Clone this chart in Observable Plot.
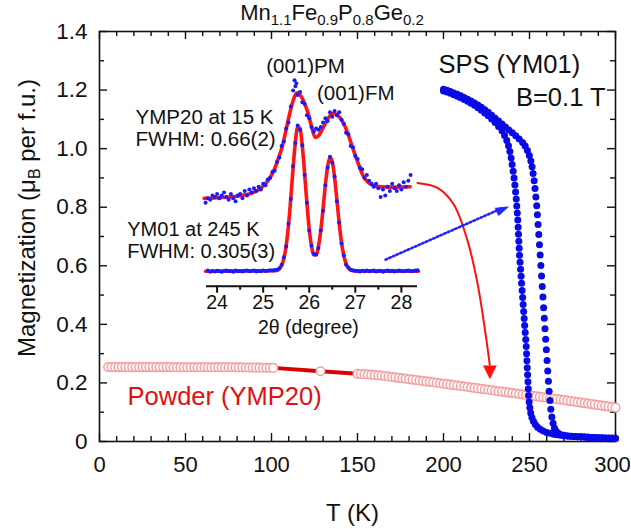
<!DOCTYPE html>
<html><head><meta charset="utf-8">
<script src="https://cdn.jsdelivr.net/npm/d3@7"></script>
<script src="https://cdn.jsdelivr.net/npm/@observablehq/plot@0.6"></script>
<style>
body{margin:0;background:#fff;}
#wrap{position:relative;width:631px;height:529px;overflow:hidden;font-family:"Liberation Sans",Arial,sans-serif;color:#111;background:#fff;}
#wrap svg{position:absolute;}
.title{position:absolute;left:332px;top:2px;transform:translateX(-50%);font-size:22px;line-height:22px;white-space:nowrap;}
.sub{font-size:15px;position:relative;top:5px;}
.ylab{position:absolute;left:28px;top:218px;transform:translate(-50%,-50%) rotate(-90deg);font-size:24px;line-height:24px;white-space:nowrap;}
.ysub{font-size:16px;position:relative;top:5px;}
</style></head><body>
<div id="wrap"></div>
<script>
// ---------- main chart data ----------
const xMajor = [0,50,100,150,200,250,300];
const xMinor = [10,20,30,40,60,70,80,90,110,120,130,140,160,170,180,190,210,220,230,240,260,270,280,290];
const yMajor = [0,0.2,0.4,0.6,0.8,1.0,1.2,1.4];
const yMinor = [0.1,0.3,0.5,0.7,0.9,1.1,1.3];

// SPS (YM01), lower-T transition branch
const coolT = [200,202,204,206,208,210,212,214,216,218,220,222,224,226,228,230,232,234,
  235.5,236.8,237.8,238.6,239.3,239.9,240.5,241,241.5,241.9,
  242.3,242.6,242.9,243.2,243.4,243.6,243.8,244,244.2,244.5,
  244.8,245.1,245.4,245.7,246,246.3,246.6,246.9,247.2,247.5,
  247.8,248.1,248.3,248.5,248.7,248.9,249.1,249.3,249.5,249.8,
  250.2,250.7,251.4,252.3,253.4,254.7,256.2,258,
  260,262,264,266,268,270,272,274,276,278,280,282,284,286,288,290,292,294,296,298,300];
const coolM = [1.197,1.193,1.189,1.184,1.179,1.174,1.168,1.162,1.155,1.148,1.140,1.131,1.122,1.112,1.101,1.089,1.076,1.061,
  1.045,1.028,1.010,0.990,0.968,0.946,0.923,0.900,0.876,0.852,
  0.828,0.804,0.780,0.756,0.732,0.708,0.684,0.660,0.636,0.612,
  0.588,0.564,0.540,0.516,0.492,0.468,0.444,0.420,0.396,0.372,
  0.348,0.324,0.300,0.276,0.252,0.228,0.204,0.180,0.157,0.135,
  0.115,0.097,0.082,0.069,0.058,0.049,0.042,0.036,
  0.031,0.028,0.025,0.023,0.021,0.020,0.019,0.018,0.017,0.016,0.016,0.015,0.014,0.014,0.013,0.013,0.012,0.012,0.011,0.011,0.010];

// SPS (YM01), higher-T transition branch
const warmT = [200,202,204,206,208,210,212,214,216,218,220,222,224,226,228,230,232,234,236,238,240,242,244,246,
  247.5,248.8,249.9,250.8,251.5,252.1,252.7,253.2,253.7,254.2,
  254.6,255,255.4,255.8,256.2,256.6,257,257.4,257.8,258.2,
  258.6,259,259.4,259.8,260.2,260.6,261,261.4,261.9,262.4,
  263,263.7,264.5,265.5,266.7,268,
  270,272,274,276,278,280,282,284,286,288,290,292,294,296,298,300];
const warmM = [1.203,1.199,1.195,1.190,1.186,1.181,1.175,1.169,1.163,1.156,1.149,1.141,1.133,1.124,1.114,1.104,1.094,1.084,1.074,1.064,1.054,1.044,1.033,1.021,
  1.009,0.994,0.977,0.958,0.938,0.915,0.890,0.864,0.835,0.805,
  0.774,0.741,0.707,0.672,0.637,0.601,0.565,0.529,0.493,0.457,
  0.421,0.385,0.349,0.313,0.277,0.241,0.206,0.172,0.140,0.110,
  0.084,0.062,0.046,0.035,0.028,0.024,
  0.021,0.019,0.018,0.017,0.016,0.016,0.015,0.015,0.014,0.014,0.013,0.013,0.012,0.012,0.012,0.011];

// Powder (YMP20)
const powderT = [5,7,9,11,13,15,17,19,21,23,25,27,29,31,33,35,37,39,41,
  43,45,47,49,51,53,55,57,59,61,63,65,67,69,71,73,75,77,79,
  81,83,85,87,89,91,93,95,97,99,101,
  128.5,
  150,152,154,156,158,160,162,164,166,168,170,172,174,176,178,180,182,184,186,188,
  190,192,194,196,198,200,202,204,206,208,210,212,214,216,218,220,222,224,226,228,
  230,232,234,236,238,240,242,244,246,248,250,252,254,256,258,260,262,264,266,268,
  270,272,274,276,278,280,282,284,286,288,290,292,294,296,298,300];
const powderM = [0.254,0.254,0.254,0.254,0.254,0.254,0.254,0.254,0.254,0.254,0.254,0.254,0.254,0.254,0.254,0.254,0.254,0.254,0.254,
  0.2535,0.2535,0.2535,0.2535,0.2535,0.2535,0.2535,0.2535,0.2535,0.2535,0.2535,0.2535,0.2535,0.2535,0.2535,0.2535,0.2535,0.2535,0.2535,
  0.253,0.253,0.2528,0.2527,0.2525,0.2524,0.2522,0.252,0.2518,0.2516,0.2514,
  0.240,
  0.231,0.2305,0.2298,0.229,0.2282,0.2273,0.2262,0.225,0.2236,0.2221,
  0.2205,0.219,0.2174,0.2158,0.2143,0.2128,0.2113,0.2098,0.2083,0.2068,
  0.2053,0.2038,0.2022,0.2006,0.199,0.1974,0.1958,0.1942,0.1926,0.191,
  0.1894,0.1878,0.1862,0.1846,0.183,0.1814,0.1798,0.1782,0.1766,0.175,
  0.1734,0.1718,0.1702,0.1686,0.167,0.1654,0.1638,0.1622,0.1606,0.159,
  0.1574,0.1558,0.1542,0.1526,0.151,0.1494,0.1478,0.1462,0.1446,0.143,
  0.1413,0.1396,0.1379,0.1362,0.1345,0.1328,0.1311,0.1294,0.1277,0.126,
  0.1243,0.1226,0.1209,0.1192,0.1175,0.1158];

// annotation arrows (data units of the main chart)
const redArrowT = [184.9,196.5,205.8,214.0,219.8,224.4,226.9];
const redArrowM = [0.883,0.866,0.811,0.685,0.539,0.369,0.262];
const blueArrowT = [166.3,231.4];
const blueArrowM = [0.621,0.7896];

// ---------- inset data (XRD) ----------
const insetTicks = [24,25,26,27,28];
const insetMinor = [24.5,25.5,26.5,27.5];

const ym01X = [23.80,23.85,23.90,23.95,24.00,24.05,24.10,24.15,24.20,24.25,
  24.30,24.35,24.40,24.45,24.50,24.55,24.60,24.65,24.70,24.75,
  24.80,24.85,24.90,24.95,25.00,25.05,25.10,25.15,25.20,25.25,
  25.30,25.35,25.40,25.45,25.50,25.55,25.60,25.65,25.70,25.75,
  25.80,25.85,25.90,25.95,26.00,26.05,26.10,26.15,26.20,26.25,
  26.30,26.35,26.40,26.45,26.50,26.55,26.60,26.65,26.70,26.75,
  26.80,26.85,26.90,26.95,27.00,27.05,27.10,27.15,27.20,27.25,
  27.30,27.35,27.40,27.45,27.50,27.55,27.60,27.65,27.70,27.75,
  27.80,27.85,27.90,27.95,28.00,28.05,28.10,28.15,28.20,28.25,
  28.30,28.35];
const ym01Y = [0.004,-0.003,0.002,-0.002,0.003,0.000,-0.004,0.002,0.005,-0.001,
  0.001,-0.003,0.004,0.000,0.002,-0.002,0.003,0.005,-0.001,0.001,
  0.004,-0.002,0.002,0.000,0.005,0.001,0.003,0.006,0.004,0.008,
  0.010,0.020,0.045,0.095,0.170,0.325,0.495,0.720,0.880,1.000,
  0.970,0.865,0.660,0.470,0.280,0.175,0.120,0.115,0.160,0.280,
  0.415,0.590,0.710,0.785,0.745,0.650,0.480,0.335,0.190,0.110,
  0.045,0.025,0.010,0.006,0.003,0.001,-0.002,0.003,0.000,0.004,
  -0.001,0.002,0.005,-0.002,0.001,0.003,-0.003,0.002,0.004,0.000,
  0.003,-0.002,0.001,0.004,0.002,-0.001,0.003,0.005,0.000,0.002,
  0.004,0.006];
const ym01FitX = [23.75,25.25,25.3,25.35,25.4,25.45,25.5,25.55,25.6,25.65,25.7,25.75,25.8,25.85,25.9,25.95,26.0,26.05,26.1,26.15,
  26.2,26.25,26.3,26.35,26.4,26.45,26.5,26.55,26.6,26.65,26.7,26.75,26.8,26.85,26.9,26.95,27.0,28.37];
const ym01FitY = [0,0.003,0.006,0.015,0.039,0.088,0.177,0.316,0.503,0.710,0.890,0.990,0.979,0.859,0.669,0.465,0.289,0.172,0.112,0.112,
  0.170,0.278,0.428,0.590,0.720,0.780,0.752,0.645,0.490,0.331,0.198,0.106,0.050,0.021,0.008,0.003,0.001,0];

const ymp20X = [23.75,23.80,23.85,23.90,23.95,24.00,24.05,24.10,24.15,24.20,24.25,24.30,24.35,24.40,24.45,24.50,24.55,24.60,24.65,24.70,
  24.75,24.80,24.85,24.90,24.95,25.00,25.05,25.10,25.15,25.20,25.25,25.30,25.35,25.40,25.45,25.50,25.55,25.60,25.65,
  25.68,25.70,25.72,
  25.75,25.80,25.85,25.90,25.95,26.00,26.05,26.10,26.15,26.20,26.25,26.30,26.35,26.40,26.45,26.50,26.55,26.60,26.65,26.70,
  26.75,26.80,26.85,26.90,26.95,27.00,27.05,27.10,27.15,27.20,27.25,27.30,27.35,27.40,27.45,27.50,27.55,27.60,27.65,27.70,
  27.75,27.80,27.85,27.90,27.95,28.00,28.05,28.10,28.15,28.20];
const ymp20Y = [0.47,0.50,0.49,0.52,0.51,0.53,0.50,0.52,0.54,0.51,0.49,0.53,0.50,0.48,0.52,0.53,0.50,0.55,0.52,0.56,
  0.54,0.57,0.55,0.58,0.56,0.60,0.59,0.63,0.64,0.68,0.69,0.75,0.78,0.86,0.89,0.98,1.02,1.13,1.24,
  1.31,1.27,1.29,
  1.21,1.23,1.16,1.15,1.07,1.05,0.99,0.96,0.98,0.97,0.99,1.02,1.05,1.03,1.09,1.06,1.10,1.07,1.09,1.04,
  1.01,0.95,0.94,0.86,0.85,0.79,0.77,0.71,0.70,0.64,0.66,0.62,0.60,0.58,0.60,0.57,0.51,0.56,0.52,0.58,
  0.55,0.60,0.57,0.55,0.59,0.56,0.61,0.58,0.62,0.66];
const ymp20FitX = [23.72,24.2,24.5,24.72,24.94,25.1,25.23,25.32,25.41,25.5,25.59,25.66,25.73,25.8,25.9,25.98,26.06,26.13,26.2,26.31,
  26.42,26.53,26.62,26.75,26.82,26.89,26.96,27.04,27.11,27.18,27.28,27.4,27.55,27.8,28.0,28.19];
const ymp20FitY = [0.500,0.508,0.518,0.532,0.567,0.620,0.690,0.765,0.850,0.975,1.100,1.180,1.225,1.210,1.150,1.080,0.980,0.918,0.930,0.990,
  1.055,1.082,1.070,1.012,0.960,0.897,0.830,0.760,0.700,0.648,0.610,0.588,0.580,0.577,0.577,0.580];

// ---------- build ----------
const FONT = "'Liberation Sans', Arial, Helvetica, sans-serif";
const pts = (a, b, kx, ky) => d3.zip(a, b).map(([u, v]) => ({[kx]: u, [ky]: v}));
const cool = pts(coolT, coolM, "T", "M");
const warm = pts(warmT, warmM, "T", "M");
const powder = pts(powderT, powderM, "T", "M");
const redArrow = pts(redArrowT, redArrowM, "T", "M");
const blueArrow = pts(blueArrowT, blueArrowM, "T", "M");
const ym01 = pts(ym01X, ym01Y, "t", "I");
const ym01Fit = pts(ym01FitX, ym01FitY, "t", "I");
const ymp20 = pts(ymp20X, ymp20Y, "t", "I");
const ymp20Fit = pts(ymp20FitX, ymp20FitY, "t", "I");

const INK = "#111";
const BLUE = "#0a0ae6";
const tickStyle = {stroke: INK, strokeWidth: 1.4};
const lastX = xMajor[xMajor.length - 1];

const main = Plot.plot({
  width: 631, height: 529,
  marginLeft: 99, marginRight: 16, marginTop: 31, marginBottom: 88,
  x: {domain: [0, 300]},
  y: {domain: [0, 1.4]},
  style: {fontFamily: FONT, color: INK, background: "white", overflow: "visible"},
  marks: [
    Plot.ruleY(yMinor, {...tickStyle, insetRight: 511}),
    Plot.ruleY(yMinor, {...tickStyle, insetLeft: 511}),
    Plot.ruleY(yMajor, {...tickStyle, insetRight: 508}),
    Plot.ruleY(yMajor, {...tickStyle, insetLeft: 508}),
    Plot.ruleX(xMinor, {...tickStyle, insetTop: 405}),
    Plot.ruleX(xMinor, {...tickStyle, insetBottom: 405}),
    Plot.ruleX(xMajor, {...tickStyle, insetTop: 402}),
    Plot.ruleX(xMajor, {...tickStyle, insetBottom: 402}),
    Plot.frame({stroke: INK, strokeWidth: 1.6}),
    Plot.axisY({ticks: yMajor, tickSize: 0, tickPadding: 12, fontSize: 22.5, label: null,
      tickFormat: d => d === 0 ? "0" : d.toFixed(1)}),
    Plot.axisX({ticks: xMajor.slice(0, -1), tickSize: 0, tickPadding: 15, fontSize: 22, label: null}),
    Plot.axisX({ticks: [lastX], tickSize: 0, tickPadding: 15, fontSize: 22, label: null, dx: -3}),
    // powder
    Plot.line(powder, {x: "T", y: "M", stroke: "#d80000", strokeWidth: 4}),
    Plot.dot(powder, {x: "T", y: "M", r: 4.3, fill: "white", stroke: "#f4a0a0", strokeWidth: 1.5}),
    // SPS
    Plot.dot(cool, {x: "T", y: "M", r: 3.5, fill: BLUE}),
    Plot.dot(warm, {x: "T", y: "M", r: 3.5, fill: BLUE}),
    // arrows
    Plot.line(redArrow, {x: "T", y: "M", curve: "catmull-rom", stroke: "#ff1010", strokeWidth: 2}),
    Plot.text(["\u25BC"], {x: 227.0, y: 0.240, fill: "#ff1010", fontSize: 18, fontFamily: "DejaVu Sans"}),
    Plot.line(blueArrow, {x: "T", y: "M", stroke: "#2424ff", strokeWidth: 2.6, strokeDasharray: "1.6,2.4"}),
    Plot.text(["\u25BA"], {x: 234.1, y: 0.7966, rotate: -23.7, fill: "#2424ff", fontSize: 18, fontFamily: "DejaVu Sans"}),
    // labels
    Plot.text(["SPS (YM01)"], {x: 197.1, y: 1.2566, textAnchor: "start", lineAnchor: "bottom", fontSize: 25.5, fill: INK}),
    Plot.text(["B=0.1 T"], {x: 294.2, y: 1.147, textAnchor: "end", lineAnchor: "bottom", fontSize: 25.5, fill: INK}),
    Plot.text(["Powder (YMP20)"], {x: 16.3, y: 0.1263, textAnchor: "start", lineAnchor: "bottom", fontSize: 25.5, fill: "#e01010"}),
    Plot.text(["T (K)"], {x: 147.1, y: -0.27, lineAnchor: "bottom", fontSize: 24, fill: INK})
  ]
});

const inset = Plot.plot({
  width: 330, height: 300,
  marginLeft: 106, marginRight: 13, marginTop: 16.7, marginBottom: 64.3,
  x: {domain: [23.77, 28.35]},
  y: {domain: [-0.103, 1.4], axis: null},
  style: {fontFamily: FONT, color: INK, background: "transparent", overflow: "visible"},
  marks: [
    Plot.ruleY([-0.103], {stroke: INK, strokeWidth: 2}),
    Plot.axisX({ticks: insetTicks, tickSize: 7, tickPadding: 2, fontSize: 19.5, label: null, strokeWidth: 2,
      tickFormat: d => String(d)}),
    Plot.axisX({ticks: insetMinor, tickSize: 4, tickFormat: () => "", label: null, strokeWidth: 2}),
    Plot.line(ymp20Fit, {x: "t", y: "I", curve: "monotone-x", stroke: "#ff1414", strokeWidth: 3.6}),
    Plot.line(ym01Fit, {x: "t", y: "I", curve: "monotone-x", stroke: "#ff1414", strokeWidth: 3.6}),
    Plot.dot(ymp20, {x: "t", y: "I", r: 2, fill: "#1a1aff"}),
    Plot.dot(ym01, {x: "t", y: "I", r: 2, fill: "#1a1aff"}),
    Plot.text(["(001)PM"], {x: 25.92, y: 1.357, lineAnchor: "bottom", fontSize: 20.5, fill: INK}),
    Plot.text(["(001)FM"], {x: 27.01, y: 1.172, lineAnchor: "bottom", fontSize: 20.5, fill: INK}),
    Plot.text(["YMP20 at 15 K"], {x: 22.23, y: 1.007, textAnchor: "start", lineAnchor: "bottom", fontSize: 20.5, fill: INK}),
    Plot.text(["FWHM: 0.66(2)"], {x: 22.23, y: 0.862, textAnchor: "start", lineAnchor: "bottom", fontSize: 20.5, fill: INK}),
    Plot.text(["YM01 at 245 K"], {x: 22.05, y: 0.243, textAnchor: "start", lineAnchor: "bottom", fontSize: 20, fill: INK}),
    Plot.text(["FWHM: 0.305(3)"], {x: 22.05, y: 0.093, textAnchor: "start", lineAnchor: "bottom", fontSize: 20, fill: INK}),
    Plot.text(["2\u03B8 (degree)"], {x: 25.98, y: -0.428, lineAnchor: "bottom", fontSize: 19.5, fill: INK})
  ]
});

const wrap = document.getElementById("wrap");
main.style.left = "0px"; main.style.top = "0px";
inset.style.left = "100px"; inset.style.top = "50px";
wrap.appendChild(main);
wrap.appendChild(inset);

const title = document.createElement("div");
title.className = "title";
title.innerHTML = 'Mn<span class="sub">1.1</span>Fe<span class="sub">0.9</span>P<span class="sub">0.8</span>Ge<span class="sub">0.2</span>';
wrap.appendChild(title);

const ylab = document.createElement("div");
ylab.className = "ylab";
ylab.innerHTML = 'Magnetization (\u03BC<span class="ysub">B</span> per f.u.)';
wrap.appendChild(ylab);
</script>
</body></html>
